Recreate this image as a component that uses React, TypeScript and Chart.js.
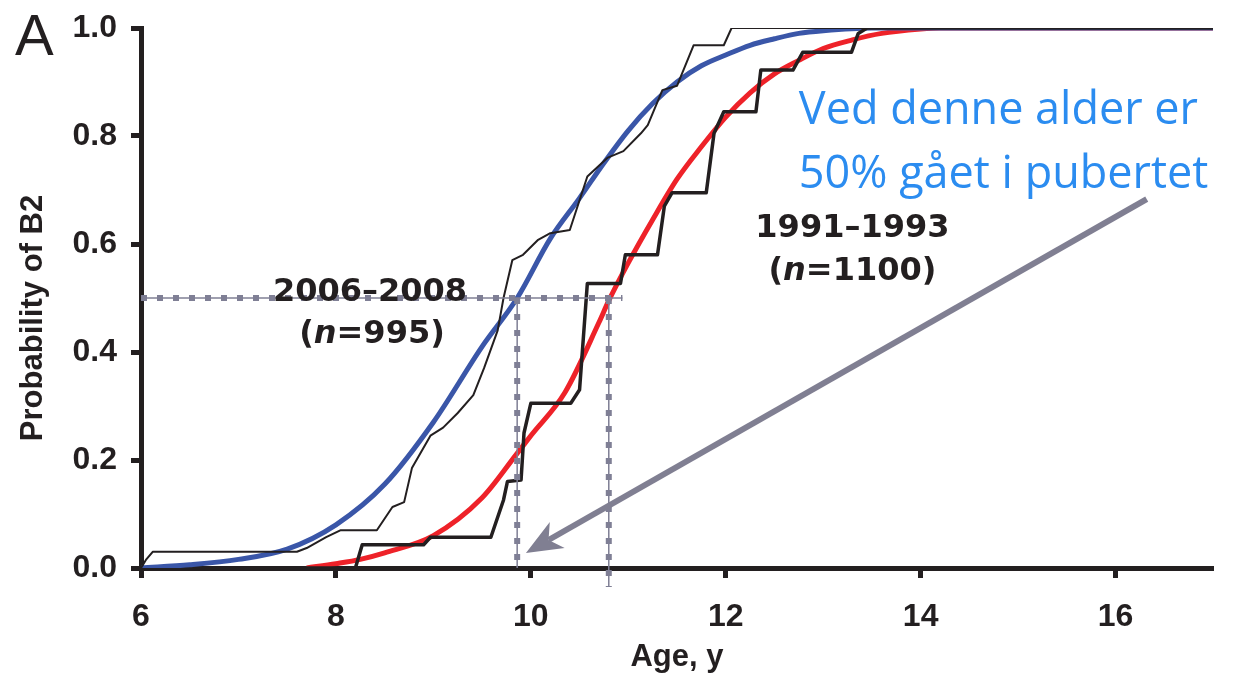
import { useEffect, useRef } from 'react';
import { Chart, registerables } from 'chart.js';

Chart.register(...registerables);

// ---------------- data ----------------
const xTickValues = [6, 8, 10, 12, 14, 16];
const yTickValues = [0, 0.2, 0.4, 0.6, 0.8, 1.0];

// Fitted curve, 2006–2008 cohort (blue)
const fitted2006Age = [6.0, 6.5, 7.0, 7.5, 8.0, 8.5, 9.0, 9.5, 9.86, 10.2, 10.5, 10.75, 11.0, 11.25, 11.5, 11.75, 12.0, 12.25, 12.5, 12.75, 13.0, 13.5, 17.0];
const fitted2006Prob = [0.0, 0.006, 0.016, 0.035, 0.08, 0.155, 0.27, 0.41, 0.5, 0.61, 0.685, 0.75, 0.81, 0.86, 0.9, 0.93, 0.95, 0.968, 0.98, 0.99, 0.995, 1.0, 1.0];

// Fitted curve, 1991–1993 cohort (red)
const fitted1991Age = [7.7, 8.0, 8.25, 8.5, 9.0, 9.5, 9.85, 10.0, 10.35, 10.7, 10.8, 11.0, 11.25, 11.5, 11.75, 12.0, 12.25, 12.5, 12.75, 13.0, 13.3, 13.6, 14.0, 14.2, 17.0];
const fitted1991Prob = [0.0, 0.008, 0.016, 0.028, 0.06, 0.13, 0.21, 0.245, 0.325, 0.455, 0.495, 0.565, 0.645, 0.72, 0.78, 0.835, 0.88, 0.915, 0.94, 0.962, 0.978, 0.99, 0.998, 1.0, 1.0];

// Observed (empirical) curve, 2006–2008 (thin black)
const observed2006Age = [6.0, 6.05, 6.12, 7.6, 7.7, 7.9, 8.05, 8.42, 8.58, 8.7, 8.78, 8.97, 9.1, 9.25, 9.41, 9.52, 9.66, 9.72, 9.81, 9.92, 10.07, 10.2, 10.4, 10.58, 10.79, 10.95, 11.13, 11.2, 11.35, 11.5, 11.67, 11.98, 12.06, 17.0];
const observed2006Prob = [0.0, 0.015, 0.03, 0.03, 0.037, 0.057, 0.07, 0.07, 0.113, 0.122, 0.185, 0.245, 0.26, 0.287, 0.32, 0.37, 0.44, 0.5, 0.57, 0.58, 0.607, 0.62, 0.626, 0.725, 0.76, 0.772, 0.805, 0.82, 0.885, 0.893, 0.968, 0.968, 1.0, 1.0];

// Observed (empirical) curve, 1991–1993 (thick black steps)
const observed1991Age = [6.73, 8.2, 8.27, 8.9, 8.97, 9.59, 9.72, 9.76, 9.9, 9.93, 10.0, 10.41, 10.5, 10.58, 10.92, 10.97, 11.3, 11.37, 11.45, 11.8, 11.88, 11.98, 12.31, 12.36, 12.69, 12.79, 13.29, 13.36, 13.45, 17.0];
const observed1991Prob = [0.0, 0.0, 0.043, 0.043, 0.057, 0.057, 0.126, 0.16, 0.163, 0.25, 0.305, 0.305, 0.33, 0.527, 0.527, 0.58, 0.58, 0.67, 0.695, 0.695, 0.805, 0.845, 0.845, 0.922, 0.922, 0.955, 0.955, 0.99, 1.0, 1.0];

// Median guide lines
const medianProb = 0.5;
const median2006Age = 9.86;
const median1991Age = 10.8;
const guideStartAge = 6.0;
const guideEndAge = 10.94;
const guide1991BottomProb = -0.035;
const guide2006BottomProb = 0.0;

// ---------------- styles ----------------
const INK = '#231f20';
const BLUE = '#3a56a8';
const RED = '#ee2229';
const GUIDE = '#7f7f95';
const ARROW = '#807f92';
const NOTE_BLUE = '#2b8cf0';
const TICK_FONT = "'Liberation Sans', Arial, sans-serif";
const LABEL_FONT = "'DejaVu Sans', Verdana, sans-serif";
const NOTE_FONT = "'Open Sans', 'Noto Sans', sans-serif";

const pts = (xs: number[], ys: number[]) => xs.map((x, i) => ({ x, y: ys[i] }));

const drawMixed = (ctx: CanvasRenderingContext2D, parts: { t: string; it: boolean }[], cx: number, cy: number, size: number) => {
  const fonts = parts.map((p) => `${p.it ? 'italic ' : ''}bold ${size}px ${LABEL_FONT}`);
  const widths = parts.map((p, i) => { ctx.font = fonts[i]; return ctx.measureText(p.t).width; });
  const total = widths.reduce((a, b) => a + b, 0);
  let x = cx - total / 2;
  ctx.textAlign = 'left';
  ctx.textBaseline = 'middle';
  parts.forEach((p, i) => { ctx.font = fonts[i]; ctx.fillText(p.t, x, cy); x += widths[i]; });
};

const annotationPlugin = {
  id: 'annotations',
  afterDatasetsDraw(chart: any) {
    const { ctx } = chart;
    const xs = chart.scales.x;
    const ys = chart.scales.y;
    const px = (v: number) => xs.getPixelForValue(v);
    const py = (v: number) => ys.getPixelForValue(v);
    ctx.save();

    // arrow
    const x1 = px(16.32), y1 = py(0.683), x2 = px(9.95), y2 = py(0.028);
    const ang = Math.atan2(y2 - y1, x2 - x1);
    const c = Math.cos(ang), s = Math.sin(ang);
    const headLen = 36, headHalf = 15, notch = 10;
    const bx = x2 - headLen * c, by = y2 - headLen * s;
    ctx.strokeStyle = ARROW;
    ctx.lineWidth = 6;
    ctx.lineCap = 'butt';
    ctx.beginPath();
    ctx.moveTo(x1, y1);
    ctx.lineTo(bx + notch * c, by + notch * s);
    ctx.stroke();
    ctx.fillStyle = ARROW;
    ctx.beginPath();
    ctx.moveTo(x2, y2);
    ctx.lineTo(bx - headHalf * s, by + headHalf * c);
    ctx.lineTo(bx + notch * c, by + notch * s);
    ctx.lineTo(bx + headHalf * s, by - headHalf * c);
    ctx.closePath();
    ctx.fill();

    // cohort labels
    ctx.fillStyle = INK;
    drawMixed(ctx, [{ t: '2006–2008', it: false }], px(8.35), py(0.51), 32);
    drawMixed(ctx, [{ t: '(', it: false }, { t: 'n', it: true }, { t: '=995)', it: false }], px(8.37), py(0.432), 32);
    drawMixed(ctx, [{ t: '1991–1993', it: false }], px(13.3), py(0.628), 32);
    drawMixed(ctx, [{ t: '(', it: false }, { t: 'n', it: true }, { t: '=1100)', it: false }], px(13.3), py(0.548), 32);

    // note
    ctx.fillStyle = NOTE_BLUE;
    ctx.font = `45px ${NOTE_FONT}`;
    ctx.textAlign = 'left';
    ctx.textBaseline = 'alphabetic';
    ctx.fillText('Ved denne alder er', px(12.75), py(0.822));
    ctx.fillText('50% gået i pubertet', px(12.75), py(0.704));

    // y-axis title (placed slightly below the axis centre, as in the source figure)
    ctx.fillStyle = INK;
    ctx.font = `bold 31px ${TICK_FONT}`;
    ctx.textAlign = 'center';
    ctx.textBaseline = 'middle';
    ctx.translate(33, 318);
    ctx.rotate(-Math.PI / 2);
    ctx.fillText('Probability of B2', 0, 0);
    ctx.setTransform(1, 0, 0, 1, 0, 0);

    // panel letter
    ctx.font = `58px ${TICK_FONT}`;
    ctx.textAlign = 'left';
    ctx.textBaseline = 'alphabetic';
    ctx.fillText('A', 15, 55);
    ctx.restore();
  },
};

export default function App() {
  const ref = useRef<HTMLCanvasElement | null>(null);
  useEffect(() => {
    if (!ref.current) return;
    const base = { pointRadius: 0, pointHoverRadius: 0, fill: false, tension: 0 };
    const dots = { ...base, borderColor: GUIDE, borderWidth: 6, borderDash: [6, 10], borderCapStyle: 'butt', clip: false };
    const thin = { ...base, borderColor: GUIDE, borderWidth: 1.5, clip: false };
    const hGuide = [{ x: guideStartAge, y: medianProb }, { x: guideEndAge, y: medianProb }];
    const v2006 = [{ x: median2006Age, y: medianProb }, { x: median2006Age, y: guide2006BottomProb }];
    const v1991 = [{ x: median1991Age, y: medianProb }, { x: median1991Age, y: guide1991BottomProb }];
    const chart = new Chart(ref.current, {
      type: 'line',
      data: {
        datasets: [
          { ...dots, data: hGuide },
          { ...thin, data: hGuide },
          { ...dots, data: v2006 },
          { ...thin, data: v2006 },
          { ...dots, data: v1991 },
          { ...thin, data: v1991 },
          { ...base, label: 'Observed 2006–2008', data: pts(observed2006Age, observed2006Prob), borderColor: INK, borderWidth: 2, borderJoinStyle: 'round' },
          { ...base, label: 'Observed 1991–1993', data: pts(observed1991Age, observed1991Prob), borderColor: INK, borderWidth: 3.5, borderJoinStyle: 'round' },
          { ...base, label: '2006–2008', data: pts(fitted2006Age, fitted2006Prob), borderColor: BLUE, borderWidth: 5, cubicInterpolationMode: 'monotone' },
          { ...base, label: '1991–1993', data: pts(fitted1991Age, fitted1991Prob), borderColor: RED, borderWidth: 5, cubicInterpolationMode: 'monotone' },
        ] as any,
      },
      options: {
        responsive: false,
        animation: false,
        events: [],
        devicePixelRatio: 1,
        layout: { padding: { left: 0, top: 28, right: 20, bottom: 0 } },
        plugins: { legend: { display: false }, tooltip: { enabled: false } },
        scales: {
          x: {
            type: 'linear',
            min: 6,
            max: 17,
            afterFit: (s: any) => { s.height = 110; s.paddingLeft = 0; s.paddingRight = 0; },
            afterBuildTicks: (s: any) => { s.ticks = xTickValues.map((v) => ({ value: v })); },
            ticks: { color: INK, font: { family: TICK_FONT, size: 32, weight: 'bold' }, padding: 20, maxRotation: 0, autoSkip: false },
            grid: { drawOnChartArea: false, drawTicks: true, tickLength: 10, tickWidth: 5, tickColor: INK },
            border: { display: true, width: 5, color: INK },
            title: { display: true, text: 'Age, y', color: INK, font: { family: TICK_FONT, size: 31, weight: 'bold' }, padding: { top: 0, bottom: 2 } },
          },
          y: {
            type: 'linear',
            min: 0,
            max: 1,
            afterFit: (s: any) => { s.width = 141; s.paddingTop = 0; s.paddingBottom = 0; },
            afterBuildTicks: (s: any) => { s.ticks = yTickValues.map((v) => ({ value: v })); },
            ticks: { color: INK, font: { family: TICK_FONT, size: 32, weight: 'bold' }, padding: 14, callback: (v: any) => Number(v).toFixed(1) },
            grid: { drawOnChartArea: false, drawTicks: true, tickLength: 10, tickWidth: 5, tickColor: INK },
            border: { display: true, width: 5, color: INK },
            title: { display: false },
          },
        },
      },
      plugins: [annotationPlugin],
    } as any);
    return () => chart.destroy();
  }, []);
  return (
    <div style={{ position: 'absolute', left: 0, top: 0, width: 1233, height: 678, background: '#fff' }}>
      <canvas ref={ref} width={1233} height={678} style={{ display: 'block' }} />
    </div>
  );
}
